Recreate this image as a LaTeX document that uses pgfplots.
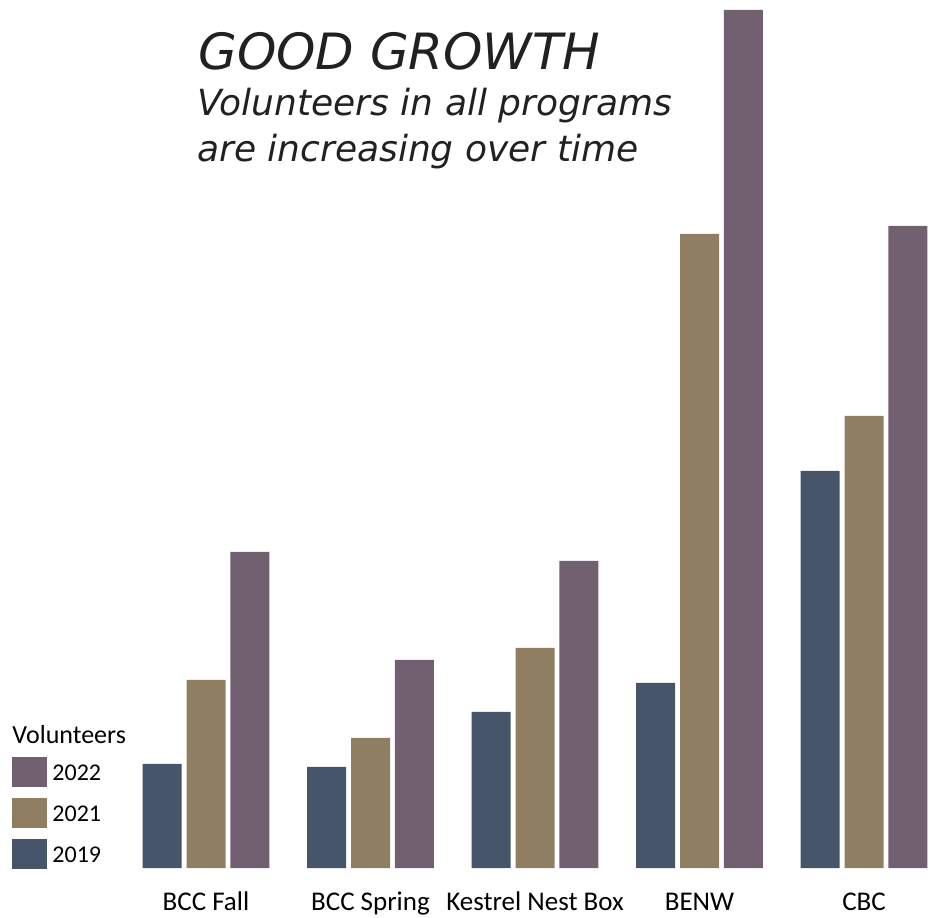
\documentclass[border=0pt]{standalone}
\usepackage{pgfplots}
\pgfplotsset{compat=1.18}
\usepackage{fontspec}
\setmainfont{Carlito}
\newfontfamily\titlefont{DejaVu Sans}
\definecolor{c2019}{RGB}{71,85,107}
\definecolor{c2021}{RGB}{144,126,98}
\definecolor{c2022}{RGB}{113,96,112}
\begin{document}
\begin{tikzpicture}
\useasboundingbox (0,-24.5pt) rectangle (469pt,434pt);
\begin{axis}[
  scale only axis, width=469pt, height=434pt,
  xmin=-1.2523, xmax=4.4498, ymin=0, ymax=868,
  axis line style={draw=none},
  major tick length=0pt,
  ytick=\empty,
  xtick={0,1,2,3,4},
  xticklabels={BCC Fall,BCC Spring,Kestrel Nest Box,BENW,CBC},
  xticklabel style={font=\fontsize{13.5}{15}\selectfont, anchor=base, inner sep=0pt, yshift=-21pt},
  ybar, bar width=0.237,
  legend style={draw=none, fill=none, at={(axis cs:-1.179,111)}, anchor=north west,
    inner sep=0pt, row sep=5.5pt, column sep=2.5pt, cells={anchor=west},
    font=\fontsize{12}{14}\selectfont, nodes={inner sep=0pt}},
  legend image code/.code={\fill[#1] (0pt,-6.5pt) rectangle (17.5pt,8.5pt);},
]
\addplot[fill=c2022, draw=none, bar shift=0.267] coordinates {(0,316) (1,208) (2,307) (3,858) (4,642)};
\addlegendentry{2022}
\addplot[fill=c2021, draw=none, bar shift=0] coordinates {(0,188) (1,130) (2,220) (3,634) (4,452)};
\addlegendentry{2021}
\addplot[fill=c2019, draw=none, bar shift=-0.267] coordinates {(0,104) (1,101) (2,156) (3,185) (4,397)};
\addlegendentry{2019}
\node[anchor=base west, inner sep=0pt, font=\fontsize{13}{15}\selectfont] at (axis cs:-1.179,125) {Volunteers};
\node[anchor=base west, inner sep=0pt, text=black!87, font=\titlefont\itshape\fontsize{25}{28}\selectfont] at (axis cs:-0.049,798) {GOOD GROWTH};
\node[anchor=base west, inner sep=0pt, text=black!87, font=\titlefont\itshape\fontsize{18}{22}\selectfont] at (axis cs:-0.055,752) {Volunteers in all programs};
\node[anchor=base west, inner sep=0pt, text=black!87, font=\titlefont\itshape\fontsize{18}{22}\selectfont] at (axis cs:-0.055,706) {are increasing over time};
\end{axis}
\end{tikzpicture}
\end{document}
